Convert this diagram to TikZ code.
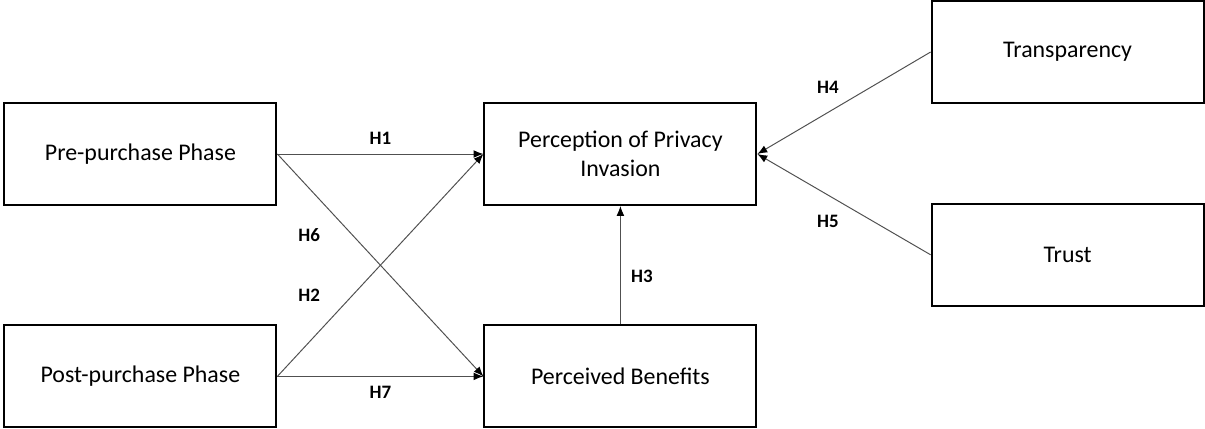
\documentclass[tikz,border=0pt]{standalone}
\usepackage{fontspec}
\setmainfont{Carlito}
\usepackage{tikz}
\usetikzlibrary{positioning, arrows.meta}
\usepackage{xcolor}
\definecolor{linegray}{RGB}{80, 80, 80}

\begin{document}
\begin{tikzpicture}[>={Latex[length=7pt, width=5.5pt, black]},
    construct/.style={draw, line width=1.4pt, minimum width=6.8cm, minimum height=2.55cm,
        align=center, inner sep=2pt, font=\fontsize{17}{21}\selectfont},
    path/.style={->, linegray, line width=0.7pt},
    hyp/.style={font=\fontsize{13.5}{16}\selectfont\bfseries, text=black}]
    \useasboundingbox (0,0) rectangle (30.125,10.7);

    % Phases
    \node[construct] (pre) at (3.51,6.85) {Pre-purchase Phase};
    \node[construct] (post) at (3.51,1.29) {Post-purchase Phase};

    % Outcomes
    \node[construct] (ppi) at (15.51,6.85) {Perception of Privacy\\Invasion};
    \node[construct] (ben) at (15.51,1.29) {Perceived Benefits};

    % Moderators
    \node[construct] (tra) at (26.69,9.4) {Transparency};
    \node[construct] (tru) at (26.69,4.33) {Trust};

    % Hypotheses
    \draw[path] (pre.east) -- (ppi.west) node[hyp, midway, above=3pt] {H1};
    \draw[path] (post.east) -- (ppi.west) node[hyp, pos=0.3, above left=2pt and 10pt] {H2};
    \draw[path] (ben.north) -- (ppi.south) node[hyp, midway, right=4pt, yshift=-8pt] {H3};
    \draw[path] (tra.west) -- (ppi.east) node[hyp, midway, above left=3pt and 0pt] {H4};
    \draw[path] (tru.west) -- (ppi.east) node[hyp, midway, below left=4pt and 0pt] {H5};
    \draw[path] (pre.east) -- (ben.west) node[hyp, pos=0.3, below left=2pt and 10pt] {H6};
    \draw[path] (post.east) -- (ben.west) node[hyp, midway, below=3pt] {H7};
\end{tikzpicture}
\end{document}
